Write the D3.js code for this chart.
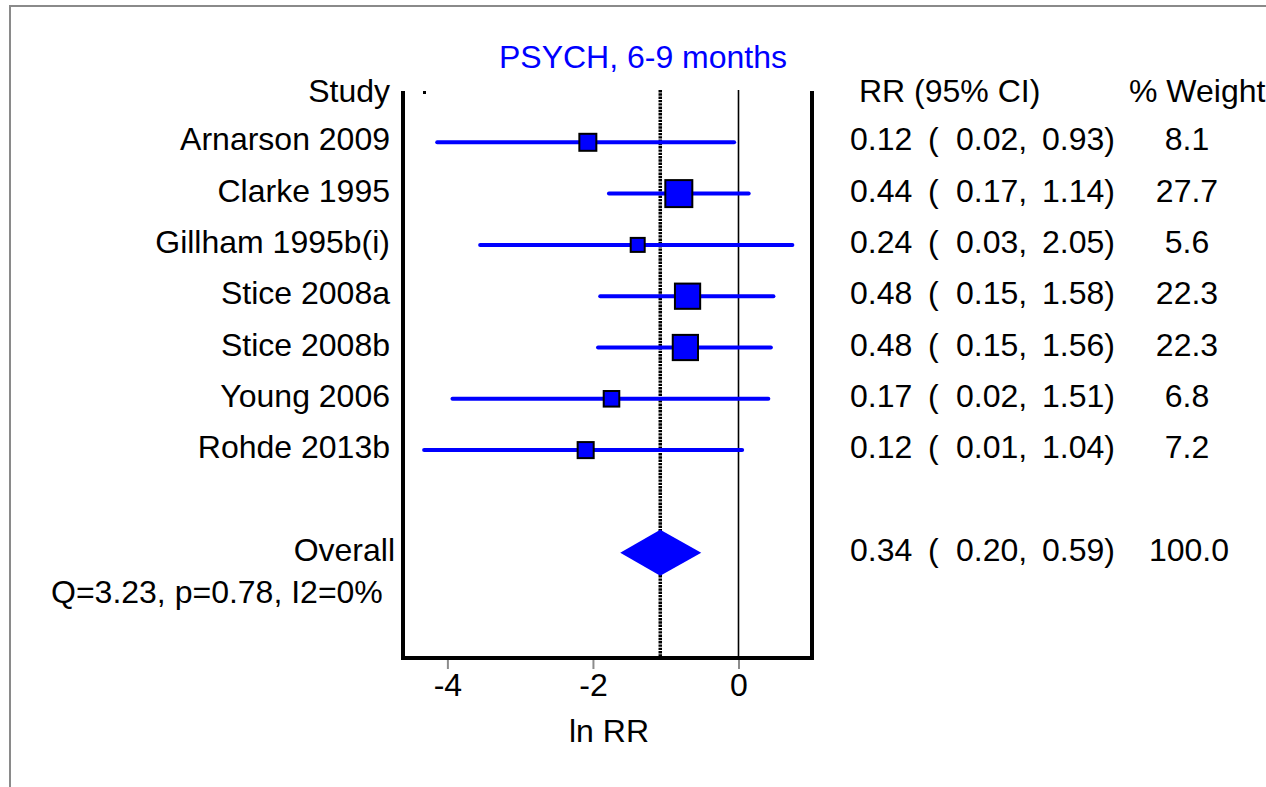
<!DOCTYPE html>
<html>
<head>
<meta charset="utf-8">
<script src="https://cdn.jsdelivr.net/npm/d3@7"></script>
<style>
  body { margin: 0; background: #fff; }
  svg { display: block; font-family: "Liberation Sans", Arial, sans-serif; }
</style>
</head>
<body>
<svg width="1266" height="787"></svg>
<script>
// data (ln RR scale for the marks)
const studies = ['Arnarson 2009', 'Clarke 1995', 'Gillham 1995b(i)', 'Stice 2008a', 'Stice 2008b', 'Young 2006', 'Rohde 2013b'];
const lnEst   = [-2.07, -0.82, -1.385, -0.70, -0.73, -1.745, -2.10];
const lnLow   = [-4.14, -1.78, -3.55, -1.90, -1.93, -3.93, -4.32];
const lnHigh  = [-0.06, 0.14, 0.74, 0.48, 0.445, 0.41, 0.05];
const rrText  = ['0.12', '0.44', '0.24', '0.48', '0.48', '0.17', '0.12'];
const lowText = ['0.02', '0.17', '0.03', '0.15', '0.15', '0.02', '0.01'];
const highText = ['0.93', '1.14', '2.05', '1.58', '1.56', '1.51', '1.04'];
const weights = [8.1, 27.7, 5.6, 22.3, 22.3, 6.8, 7.2];

const overall = { est: -1.075, low: -1.625, high: -0.512, rr: '0.34', lo: '0.20', hi: '0.59', w: '100.0' };
const hetText = 'Q=3.23, p=0.78, I2=0%';
const title = 'PSYCH, 6-9 months';
const xTicks = [-4, -2, 0];

const svg = d3.select('svg');
const blue = '#0000ff';
const fs = 32;

// outer frame
svg.append('rect')
  .attr('x', 10).attr('y', 6)
  .attr('width', 1300).attr('height', 830)
  .attr('fill', 'none').attr('stroke', '#8a8a8a').attr('stroke-width', 2);

const x = d3.scaleLinear().domain([-4.61, 1.01]).range([403, 812]);
const y = d3.scaleLinear().domain([0, 1]).range([91, 142.3]); // row index -> y
const box = d3.scaleLog().domain([5.6, 27.7]).range([14, 27]);

const yTop = 90, yBottom = 658;

// title
svg.append('text')
  .attr('x', 643).attr('y', 68)
  .attr('text-anchor', 'middle')
  .attr('fill', blue).attr('font-size', fs)
  .text(title);

// headers
const hdrY = 101.7;
svg.append('text').attr('x', 390).attr('y', hdrY).attr('text-anchor', 'end').attr('font-size', fs).text('Study');
svg.append('text').attr('x', 859).attr('y', hdrY).attr('font-size', fs).text('RR (95% CI)');
svg.append('text').attr('x', 1129).attr('y', hdrY).attr('font-size', fs).text('% Weight');

// stray dot by the header
svg.append('rect').attr('x', 423).attr('y', 91).attr('width', 3).attr('height', 3).attr('fill', '#000');

// null line and pooled estimate line
svg.append('line')
  .attr('x1', x(0)).attr('x2', x(0)).attr('y1', yTop).attr('y2', yBottom)
  .attr('stroke', '#000').attr('stroke-width', 1.6);
svg.append('line')
  .attr('x1', x(overall.est)).attr('x2', x(overall.est)).attr('y1', yTop).attr('y2', yBottom)
  .attr('stroke', '#000').attr('stroke-width', 3.5).attr('stroke-dasharray', '2.4,0.9');

// frame of the plot
svg.append('line').attr('x1', 403).attr('x2', 403).attr('y1', 91).attr('y2', 660)
  .attr('stroke', '#000').attr('stroke-width', 4);
svg.append('line').attr('x1', 812).attr('x2', 812).attr('y1', 91).attr('y2', 660)
  .attr('stroke', '#000').attr('stroke-width', 4);

// axis
const axis = svg.append('g')
  .attr('transform', `translate(0,${yBottom + 2})`)
  .call(d3.axisBottom(x).tickValues(xTicks).tickSize(9).tickPadding(4).tickFormat(d => String(d)));
axis.select('.domain').remove();
axis.selectAll('.tick line').attr('stroke', '#8c8c8c').attr('stroke-width', 2);
axis.selectAll('.tick text').attr('font-size', fs).attr('font-family', '"Liberation Sans", Arial, sans-serif').attr('fill', '#000');
svg.append('line').attr('x1', 403).attr('x2', 812).attr('y1', yBottom).attr('y2', yBottom)
  .attr('stroke', '#000').attr('stroke-width', 4);

svg.append('text').attr('x', 609).attr('y', 742).attr('text-anchor', 'middle').attr('font-size', fs).text('ln RR');

// study rows
const rows = studies.map((s, i) => ({
  name: s, est: lnEst[i], low: lnLow[i], high: lnHigh[i],
  rr: rrText[i], lo: lowText[i], hi: highText[i], w: weights[i], row: i + 1
}));

const g = svg.append('g');
g.selectAll('line.ci').data(rows).enter().append('line')
  .attr('class', 'ci')
  .attr('x1', d => x(d.low)).attr('x2', d => x(d.high))
  .attr('y1', d => y(d.row)).attr('y2', d => y(d.row))
  .attr('stroke', blue).attr('stroke-width', 4).attr('stroke-linecap', 'round');

g.selectAll('rect.box').data(rows).enter().append('rect')
  .attr('class', 'box')
  .attr('x', d => x(d.est) - box(d.w) / 2)
  .attr('y', d => y(d.row) - box(d.w) / 2)
  .attr('width', d => box(d.w)).attr('height', d => box(d.w))
  .attr('fill', blue).attr('stroke', '#000').attr('stroke-width', 2);

const txt = (sel, xpos, f, anchor) => sel.append('text')
  .attr('x', xpos).attr('y', d => y(d.row) + 8)
  .attr('text-anchor', anchor || 'start').attr('font-size', fs).text(f);

const rg = g.selectAll('g.row').data(rows).enter().append('g').attr('class', 'row');
txt(rg, 390, d => d.name, 'end');
txt(rg, 850, d => d.rr);
txt(rg, 928, () => '(');
txt(rg, 956, d => d.lo + ',');
txt(rg, 1042, d => d.hi + ')');
txt(rg, 1187, d => d3.format('.1f')(d.w), 'middle');

// overall diamond
const oy = y(9);
svg.append('path')
  .attr('d', d3.line()([[x(overall.low), oy], [x(overall.est), oy - 23], [x(overall.high), oy], [x(overall.est), oy + 23]]) + 'Z')
  .attr('fill', blue);

const og = svg.append('g').selectAll('g').data([Object.assign({ row: 9 }, overall)]).enter().append('g');
txt(og, 395, () => 'Overall', 'end');
txt(og, 850, d => d.rr);
txt(og, 928, () => '(');
txt(og, 956, d => d.lo + ',');
txt(og, 1042, d => d.hi + ')');
txt(og, 1189, d => d.w, 'middle');

svg.append('text').attr('x', 51).attr('y', 603).attr('font-size', fs).text(hetText);
</script>
</body>
</html>
